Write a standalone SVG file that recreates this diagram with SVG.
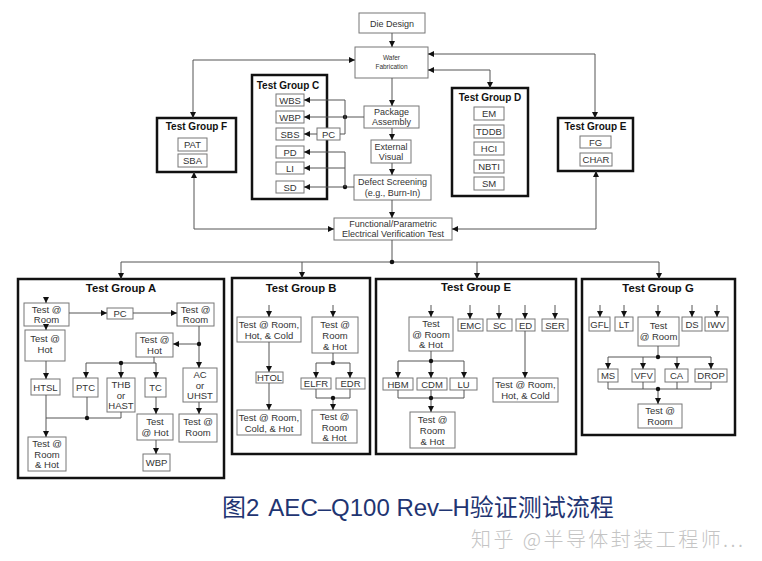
<svg xmlns="http://www.w3.org/2000/svg" width="762" height="561" viewBox="0 0 762 561">
<style>
.b{fill:#fff;stroke:#777;stroke-width:1}
.g{fill:#fff;stroke:#111;stroke-width:2.5}
.t{font-family:"Liberation Sans",Arial,sans-serif;font-size:9.5px;fill:#333;text-anchor:middle}
.s{font-size:9px}
.h{font-family:"Liberation Sans",Arial,sans-serif;font-weight:bold;font-size:10px;fill:#111;text-anchor:middle}
.hb{font-size:11.3px}
.c{fill:none;stroke:#555;stroke-width:1}
.a{marker-end:url(#ar)}
.aa{marker-start:url(#ar);marker-end:url(#ar)}
.d{fill:#111}
</style>
<defs>
<marker id="ar" viewBox="0 0 8 8" refX="8" refY="4" markerWidth="6" markerHeight="6" markerUnits="userSpaceOnUse" orient="auto-start-reverse">
<path d="M0,0 L8,4 L0,8 z" fill="#111"/>
</marker>
</defs>
<rect width="762" height="561" fill="#fff"/>

<!-- main flow -->
<g id="die-design"><rect class="b" x="359" y="13" width="66" height="20"/><text class="t s" x="392" y="26.5">Die Design</text></g>
<g id="wafer-fab"><rect class="b" x="355" y="47" width="73" height="31"/><text class="t" style="font-size:6.5px" x="391.5" y="60"><tspan x="391.5">Wafer</tspan><tspan x="391.5" dy="9">Fabrication</tspan></text></g>
<g id="package-assembly"><rect class="b" x="364" y="106" width="55" height="22"/><text class="t s" x="391.5" y="115"><tspan x="391.5">Package</tspan><tspan x="391.5" dy="10">Assembly</tspan></text></g>
<g id="external-visual"><rect class="b" x="371" y="140" width="40" height="23"/><text class="t s" x="391" y="149.5"><tspan x="391">External</tspan><tspan x="391" dy="10">Visual</tspan></text></g>
<g id="defect-screening"><rect class="b" x="354" y="175" width="77" height="25"/><text class="t s" x="392.5" y="185"><tspan x="392.5">Defect Screening</tspan><tspan x="392.5" dy="11">(e.g., Burn-In)</tspan></text></g>
<g id="functional-test"><rect class="b" x="334" y="218" width="118" height="22"/><text class="t s" x="393" y="227"><tspan x="393">Functional/Parametric</tspan><tspan x="393" dy="10">Electrical Verification  Test</tspan></text></g>

<!-- Test Group C -->
<g id="group-c">
<rect class="g" x="252" y="75" width="75" height="124"/>
<text class="h" x="288" y="89">Test Group C</text>
<rect class="b" x="276" y="94" width="28" height="12"/><text class="t" x="290" y="103.5">WBS</text>
<rect class="b" x="276" y="111" width="28" height="12"/><text class="t" x="290" y="120.5">WBP</text>
<rect class="b" x="276" y="128" width="28" height="12"/><text class="t" x="290" y="137.5">SBS</text>
<rect class="b" x="276" y="146" width="28" height="12"/><text class="t" x="290" y="155.5">PD</text>
<rect class="b" x="276" y="162" width="28" height="12"/><text class="t" x="290" y="171.5">LI</text>
<rect class="b" x="276" y="181" width="28" height="12"/><text class="t" x="290" y="190.5">SD</text>
</g>
<g id="pc-c"><rect class="b" x="317" y="128" width="23" height="12"/><text class="t" x="328.5" y="137.5">PC</text></g>

<!-- Test Group D -->
<g id="group-d">
<rect class="g" x="452" y="88" width="76" height="108"/>
<text class="h" x="490" y="101">Test Group D</text>
<rect class="b" x="474" y="107" width="30" height="13"/><text class="t" x="489" y="117">EM</text>
<rect class="b" x="474" y="125" width="30" height="13"/><text class="t" x="489" y="135">TDDB</text>
<rect class="b" x="474" y="142" width="30" height="13"/><text class="t" x="489" y="152">HCI</text>
<rect class="b" x="474" y="160" width="30" height="13"/><text class="t" x="489" y="170">NBTI</text>
<rect class="b" x="474" y="177" width="30" height="13"/><text class="t" x="489" y="187">SM</text>
</g>

<!-- Test Group E (upper) -->
<g id="group-e-upper">
<rect class="g" x="558" y="118" width="75" height="53"/>
<text class="h" x="595.5" y="130">Test Group E</text>
<rect class="b" x="580" y="136" width="31" height="12"/><text class="t" x="595.5" y="145.5">FG</text>
<rect class="b" x="580" y="153" width="32" height="13"/><text class="t" x="596" y="163">CHAR</text>
</g>

<!-- Test Group F -->
<g id="group-f">
<rect class="g" x="157" y="118" width="79" height="54"/>
<text class="h" x="196.5" y="130">Test Group F</text>
<rect class="b" x="178" y="138" width="29" height="13"/><text class="t" x="192.5" y="148">PAT</text>
<rect class="b" x="178" y="154" width="29" height="13"/><text class="t" x="192.5" y="164">SBA</text>
</g>

<!-- Test Group A -->
<g id="group-a">
<rect class="g" x="18" y="279" width="206" height="199"/>
<text class="h hb" x="121" y="292">Test Group A</text>
<rect class="b" x="24" y="303" width="45" height="23"/><text class="t" x="46.5" y="312.5"><tspan x="46.5">Test  @</tspan><tspan x="46.5" dy="10.5">Room</tspan></text>
<rect class="b" x="107" y="308" width="26" height="11"/><text class="t" x="120" y="317">PC</text>
<rect class="b" x="177" y="303" width="37" height="23"/><text class="t" x="195.5" y="312.5"><tspan x="195.5">Test @</tspan><tspan x="195.5" dy="10.5">Room</tspan></text>
<rect class="b" x="25" y="330" width="40" height="31"/><text class="t" x="45" y="342"><tspan x="45">Test @</tspan><tspan x="45" dy="11">Hot</tspan></text>
<rect class="b" x="136" y="333" width="37" height="24"/><text class="t" x="154.5" y="343"><tspan x="154.5">Test @</tspan><tspan x="154.5" dy="10.5">Hot</tspan></text>
<rect class="b" x="31" y="379" width="29" height="16"/><text class="t" x="45.5" y="390.5">HTSL</text>
<rect class="b" x="73" y="378" width="25" height="19"/><text class="t" x="85.5" y="391">PTC</text>
<rect class="b" x="107" y="378" width="28" height="34"/><text class="t" x="121" y="388"><tspan x="121">THB</tspan><tspan x="121" dy="10.5">or</tspan><tspan x="121" dy="10.5">HAST</tspan></text>
<rect class="b" x="145" y="378" width="21" height="19"/><text class="t" x="155.5" y="391">TC</text>
<rect class="b" x="183" y="368" width="34" height="34"/><text class="t" x="200" y="378"><tspan x="200">AC</tspan><tspan x="200" dy="10.5">or</tspan><tspan x="200" dy="10.5">UHST</tspan></text>
<rect class="b" x="179" y="414" width="38" height="28"/><text class="t" x="198" y="425"><tspan x="198">Test @</tspan><tspan x="198" dy="11">Room</tspan></text>
<rect class="b" x="137" y="414" width="36" height="26"/><text class="t" x="155" y="424.5"><tspan x="155">Test</tspan><tspan x="155" dy="11">@ Hot</tspan></text>
<rect class="b" x="143" y="454" width="27" height="17"/><text class="t" x="156.5" y="466">WBP</text>
<rect class="b" x="28" y="437" width="38" height="34"/><text class="t" x="47" y="447"><tspan x="47">Test @</tspan><tspan x="47" dy="10.5">Room</tspan><tspan x="47" dy="10.5">&amp; Hot</tspan></text>
</g>

<!-- Test Group B -->
<g id="group-b">
<rect class="g" x="232" y="278" width="138" height="176"/>
<text class="h hb" x="301" y="292">Test Group B</text>
<rect class="b" x="237" y="317" width="64" height="25"/><text class="t" x="269" y="327.5"><tspan x="269">Test @ Room,</tspan><tspan x="269" dy="11">Hot, &amp; Cold</tspan></text>
<rect class="b" x="256" y="372" width="27" height="11"/><text class="t" x="269.5" y="381">HTOL</text>
<rect class="b" x="237" y="410" width="64" height="25"/><text class="t" x="269" y="420.5"><tspan x="269">Test @ Room,</tspan><tspan x="269" dy="11">Cold, &amp; Hot</tspan></text>
<rect class="b" x="312" y="317" width="46" height="36"/><text class="t" x="335" y="327.5"><tspan x="335">Test @</tspan><tspan x="335" dy="11">Room</tspan><tspan x="335" dy="11">&amp; Hot</tspan></text>
<rect class="b" x="301" y="378" width="30" height="11"/><text class="t" x="316" y="387">ELFR</text>
<rect class="b" x="336" y="378" width="29" height="11"/><text class="t" x="350.5" y="387">EDR</text>
<rect class="b" x="312" y="410" width="45" height="33"/><text class="t" x="334.5" y="420"><tspan x="334.5">Test @</tspan><tspan x="334.5" dy="10.5">Room</tspan><tspan x="334.5" dy="10.5">&amp; Hot</tspan></text>
</g>

<!-- Test Group E (lower) -->
<g id="group-e-lower">
<rect class="g" x="376" y="279" width="200" height="175"/>
<text class="h hb" x="476" y="291">Test Group E</text>
<rect class="b" x="409" y="317" width="44" height="34"/><text class="t" x="431" y="327"><tspan x="431">Test</tspan><tspan x="431" dy="10.5">@ Room</tspan><tspan x="431" dy="10.5">&amp; Hot</tspan></text>
<rect class="b" x="458" y="319" width="25" height="12"/><text class="t" x="470.5" y="328.5">EMC</text>
<rect class="b" x="487" y="319" width="25" height="12"/><text class="t" x="499.5" y="328.5">SC</text>
<rect class="b" x="516" y="319" width="19" height="12"/><text class="t" x="525.5" y="328.5">ED</text>
<rect class="b" x="542" y="319" width="26" height="12"/><text class="t" x="555" y="328.5">SER</text>
<rect class="b" x="383" y="378" width="30" height="12"/><text class="t" x="398" y="387.5">HBM</text>
<rect class="b" x="417" y="378" width="30" height="12"/><text class="t" x="432" y="387.5">CDM</text>
<rect class="b" x="450" y="378" width="27" height="12"/><text class="t" x="463.5" y="387.5">LU</text>
<rect class="b" x="410" y="412" width="45" height="36"/><text class="t" x="432.5" y="423"><tspan x="432.5">Test @</tspan><tspan x="432.5" dy="11">Room</tspan><tspan x="432.5" dy="11">&amp; Hot</tspan></text>
<rect class="b" x="493" y="378" width="65" height="24"/><text class="t" x="525.5" y="388"><tspan x="525.5">Test @ Room,</tspan><tspan x="525.5" dy="11">Hot, &amp; Cold</tspan></text>
</g>

<!-- Test Group G -->
<g id="group-g">
<rect class="g" x="582" y="279" width="153" height="156"/>
<text class="h hb" x="658" y="292">Test Group G</text>
<rect class="b" x="589" y="317" width="21" height="14"/><text class="t" x="599.5" y="327.5">GFL</text>
<rect class="b" x="615" y="317" width="18" height="14"/><text class="t" x="624" y="327.5">LT</text>
<rect class="b" x="638" y="317" width="41" height="29"/><text class="t" x="658.5" y="328.5"><tspan x="658.5">Test</tspan><tspan x="658.5" dy="11">@ Room</tspan></text>
<rect class="b" x="682" y="317" width="20" height="14"/><text class="t" x="692" y="327.5">DS</text>
<rect class="b" x="705" y="317" width="23" height="14"/><text class="t" x="716.5" y="327.5">IWV</text>
<rect class="b" x="598" y="369" width="20" height="13"/><text class="t" x="608" y="379">MS</text>
<rect class="b" x="632" y="369" width="23" height="13"/><text class="t" x="643.5" y="379">VFV</text>
<rect class="b" x="665" y="369" width="23" height="13"/><text class="t" x="676.5" y="379">CA</text>
<rect class="b" x="695" y="369" width="32" height="13"/><text class="t" x="711" y="379">DROP</text>
<rect class="b" x="638" y="404" width="44" height="24"/><text class="t" x="660" y="414"><tspan x="660">Test @</tspan><tspan x="660" dy="11">Room</tspan></text>
</g>

<!-- connectors -->
<g id="connectors">
<path class="c a" d="M392,33 V47"/>
<path class="c aa" d="M355,60 H193 V118"/>
<path class="c aa" d="M428,54 H595 V118"/>
<path class="c aa" d="M428,70 H490 V88"/>
<path class="c a" d="M392,78 V106"/>
<path class="c a" d="M392,128 V140"/>
<path class="c a" d="M392,163 V175"/>
<path class="c a" d="M392,200 V218"/>
<path class="c aa" d="M194,172 V229 H334"/>
<path class="c aa" d="M596,171 V229 H452"/>
<path class="c" d="M392,240 V262"/>
<path class="c aa" d="M121,279 V262 H659 V279"/>
<path class="c a" d="M302,262 V278"/>
<path class="c a" d="M477,262 V279"/>
<circle class="d" cx="392" cy="262" r="2.3"/>
<!-- group C -->
<path class="c a" d="M364,117 H304"/>
<circle class="d" cx="345" cy="117" r="2.2"/>
<path class="c" d="M345,100 V134 H340"/>
<path class="c a" d="M345,100 H304"/>
<path class="c a" d="M317,134 H304"/>
<path class="c a" d="M354,187 H304"/>
<circle class="d" cx="345" cy="187" r="2.2"/>
<path class="c" d="M345,152 V187"/>
<path class="c a" d="M345,152 H304"/>
<path class="c a" d="M345,168 H304"/>
<!-- group A -->
<path class="c a" d="M46,297 V303"/>
<path class="c a" d="M46,326 V330"/>
<path class="c a" d="M69,313 H107"/>
<path class="c a" d="M133,313 H177"/>
<path class="c a" d="M46,361 V379"/>
<path class="c a" d="M199,326 V368"/>
<path class="c a" d="M199,344 H173"/>
<circle class="d" cx="199" cy="344" r="2.2"/>
<path class="c a" d="M199,402 V414"/>
<path class="c" d="M154,357 V363"/>
<path class="c aa" d="M86,378 V363 H156 V378"/>
<path class="c a" d="M121,363 V378"/>
<circle class="d" cx="121" cy="363" r="2.2"/>
<path class="c" d="M87,397 V418"/>
<path class="c" d="M121,412 V418 H46"/>
<path class="c a" d="M46,395 V437"/>
<circle class="d" cx="87" cy="418" r="2.2"/>
<path class="c a" d="M156,397 V414"/>
<path class="c a" d="M156,440 V454"/>
<!-- group B -->
<path class="c a" d="M269,305 V317"/>
<path class="c a" d="M269,342 V372"/>
<path class="c a" d="M269,383 V410"/>
<path class="c a" d="M333,305 V317"/>
<path class="c" d="M333,353 V363"/>
<path class="c aa" d="M316,378 V363 H350 V378"/>
<circle class="d" cx="333" cy="363" r="2.2"/>
<path class="c" d="M316,389 V398 H350 V389"/>
<path class="c a" d="M333,398 V410"/>
<circle class="d" cx="333" cy="398" r="2.2"/>
<!-- group E -->
<path class="c a" d="M431,305 V317"/>
<path class="c a" d="M470,305 V319"/>
<path class="c a" d="M499,305 V319"/>
<path class="c a" d="M525,305 V319"/>
<path class="c a" d="M555,305 V319"/>
<path class="c" d="M431,351 V361"/>
<path class="c aa" d="M398,378 V361 H464 V378"/>
<path class="c a" d="M431,361 V378"/>
<circle class="d" cx="431" cy="361" r="2.2"/>
<path class="c" d="M398,390 V398 H464 V390"/>
<path class="c a" d="M431,390 V412"/>
<circle class="d" cx="431" cy="398" r="2.2"/>
<path class="c a" d="M525,331 V378"/>
<!-- group G -->
<path class="c a" d="M600,305 V317"/>
<path class="c a" d="M624,305 V317"/>
<path class="c a" d="M658,305 V317"/>
<path class="c a" d="M692,305 V317"/>
<path class="c a" d="M717,305 V317"/>
<path class="c" d="M658,346 V357"/>
<path class="c aa" d="M608,369 V357 H711 V369"/>
<path class="c a" d="M643,357 V369"/>
<path class="c a" d="M677,357 V369"/>
<circle class="d" cx="658" cy="357" r="2.2"/>
<path class="c" d="M608,382 V389 H711 V382 M643,382 V389 M677,382 V389"/>
<path class="c a" d="M658,389 V404"/>
<circle class="d" cx="658" cy="389" r="2.2"/>
</g>

<!-- caption -->
<text x="222" y="516" style="font-family:'Liberation Sans','Noto Sans CJK SC',sans-serif;font-size:24px;fill:#1f3572">图2<tspan dx="9">AEC–Q100 Rev–H验证测试流程</tspan></text>
<text x="471" y="547" textLength="272" lengthAdjust="spacing" style="font-family:'Noto Sans CJK SC',sans-serif;font-size:20px;font-weight:300;fill:#c4c4c4">知乎 @半导体封装工程师...</text>
</svg>
